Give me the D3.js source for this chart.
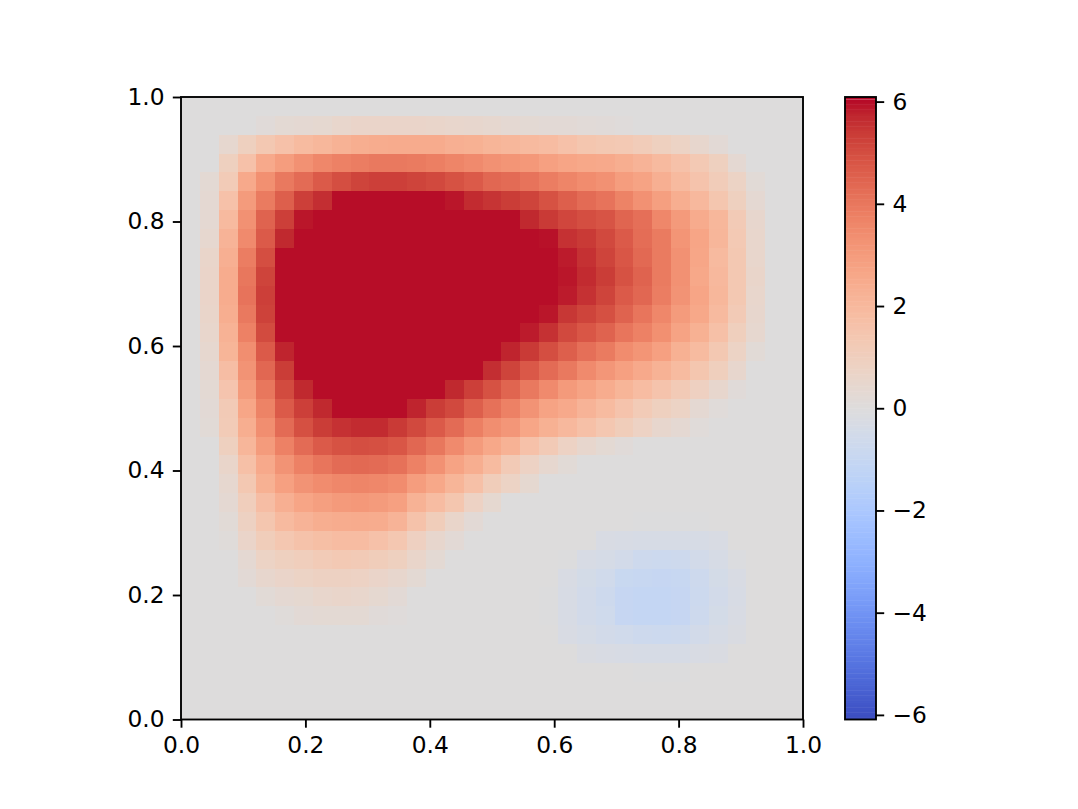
<!DOCTYPE html>
<html>
<head>
<meta charset="utf-8">
<script src="https://cdn.jsdelivr.net/npm/d3@7"></script>
<style>
  html, body { margin: 0; padding: 0; background: #fff; }
  svg { display: block; }
  text { font-family: "DejaVu Sans", sans-serif; }
</style>
</head>
<body>
<svg id="chart" width="1078" height="809"></svg>
<script>
// values, one list per row, top row first
const cellValues = [
  [0,0,0,0,0,0,0,0,0,0,0,0,0,0,0,0,0,0,0,0,0,0,0,0,0,0,0,0,0,0,0,0,0],
  [0,0,0,0,.15,.3,.35,.4,.55,.65,.65,.65,.65,.6,.55,.5,.45,.35,.3,.25,.25,.18,.15,.08,0,0,0,0,0,0,0,0,0],
  [0,0,.45,.95,1.35,1.65,1.9,2.05,2.25,2.4,2.45,2.5,2.5,2.5,2.35,2.3,2.15,2.05,1.95,1.85,1.65,1.45,1.35,1.3,1.15,.95,.75,.5,.25,0,0,0,0],
  [0,0,.95,1.65,2.55,2.95,3.3,3.6,3.75,3.85,3.95,3.95,3.9,3.8,3.65,3.5,3.3,3.2,3.1,2.85,2.7,2.6,2.55,2.4,2.2,1.95,1.65,1.3,.95,.35,0,0,0],
  [0,.3,1.2,2.55,3.35,3.95,4.3,4.7,5,5.2,5.3,5.3,5.2,5.1,4.9,4.7,4.4,4.3,4.1,3.85,3.65,3.45,3.3,2.95,2.75,2.35,1.95,1.55,1.15,.75,.2,0,0],
  [0,.35,1.65,3,3.9,4.6,5.3,5.6,6,6,6,6,6,6,5.9,5.65,5.5,5.35,5.2,4.9,4.6,4.3,4.1,3.7,3.3,2.9,2.4,2,1.45,.95,.35,0,0],
  [0,.35,1.95,3.3,4.5,5.3,5.9,6,6,6,6,6,6,6,6,6,6,6,5.7,5.4,5.15,5,4.85,4.45,4.2,3.6,3.05,2.5,2.05,1.25,.5,0,0],
  [0,.45,2.2,3.5,4.7,5.7,6,6,6,6,6,6,6,6,6,6,6,6,6,5.95,5.55,5.4,5.1,4.7,4.25,3.9,3.2,2.7,2.1,1.3,.55,0,0],
  [0,.6,2.35,3.85,5,6,6,6,6,6,6,6,6,6,6,6,6,6,6,6,5.85,5.55,5.2,4.8,4.35,3.9,3.3,2.65,1.95,1.35,.55,0,0],
  [0,.65,2.45,4,5.2,6,6,6,6,6,6,6,6,6,6,6,6,6,6,6,5.9,5.65,5.35,4.9,4.5,3.9,3.3,2.6,2,1.35,.6,0,0],
  [0,.65,2.45,4.1,5.3,6,6,6,6,6,6,6,6,6,6,6,6,6,6,6,5.85,5.55,5.2,4.7,4.4,3.85,3.25,2.7,2.05,1.35,.55,0,0],
  [0,.6,2.4,3.95,5.25,6,6,6,6,6,6,6,6,6,6,6,6,6,6,5.9,5.45,5.2,4.95,4.5,4.05,3.6,3,2.6,1.95,1.25,.5,0,0],
  [0,.55,2.25,3.75,5.05,6,6,6,6,6,6,6,6,6,6,6,6,6,5.85,5.55,5.1,4.8,4.5,4.05,3.75,3.35,2.75,2.3,1.7,1,.45,0,0],
  [0,.45,2.15,3.4,4.7,5.75,6,6,6,6,6,6,6,6,6,6,6,5.75,5.4,5,4.6,4.2,3.9,3.45,3.2,2.85,2.3,1.9,1.35,.75,.2,0,0],
  [0,.35,1.8,3.25,4.4,5.35,6,6,6,6,6,6,6,6,6,6,5.6,5.2,4.75,4.3,3.95,3.5,3.15,2.85,2.55,2.25,1.9,1.45,1,.5,0,0,0],
  [0,.3,1.5,3,4,5.05,5.7,6,6,6,6,6,6,6,5.7,5.3,4.9,4.45,3.95,3.5,3.05,2.75,2.45,2.15,1.85,1.55,1.25,.9,.5,.15,0,0,0],
  [0,.25,1.25,2.65,3.7,4.7,5.3,5.7,6,6,6,6,5.75,5.35,5.1,4.6,4.15,3.75,3.25,2.75,2.55,2.2,1.9,1.55,1.2,.95,.75,.35,.12,0,0,0,0],
  [0,.2,1.2,2.4,3.4,4.3,4.95,5.35,5.55,5.65,5.65,5.4,5.1,4.7,4.3,3.8,3.4,3.15,2.65,2.3,2,1.7,1.4,1.1,.8,.5,.35,.12,0,0,0,0,0],
  [0,0,.95,2.1,3,3.75,4.3,4.7,4.9,5,4.95,4.8,4.4,4,3.5,3,2.6,2.25,1.65,1.25,.8,.5,.3,.15,0,0,0,0,0,0,0,0,0],
  [0,0,.6,1.7,2.55,3.25,3.75,4.05,4.3,4.35,4.3,4.15,3.75,3.3,2.75,2.4,1.9,1.25,.8,.45,.2,0,0,0,0,0,0,0,0,0,0,0,0],
  [0,0,.45,1.35,2.3,2.85,3.25,3.45,3.6,3.65,3.6,3.45,2.95,2.6,2.15,1.7,1.1,.75,.4,0,0,0,0,0,0,0,0,0,0,0,0,0,0],
  [0,0,.35,1.05,1.8,2.35,2.7,2.9,3.05,3.1,3,2.85,2.25,1.85,1.45,.8,.4,0,0,0,0,0,0,0,0,0,0,0,0,0,0,0,0],
  [0,0,.2,.85,1.45,1.95,2.2,2.4,2.45,2.5,2.45,2.2,1.6,1.1,.6,.25,0,0,0,0,0,0,0,0,-.04,-.04,-.04,-.04,0,0,0,0,0],
  [0,0,.1,.65,1.1,1.4,1.6,1.75,1.85,1.85,1.65,1.4,.9,.5,.25,0,0,0,0,0,0,0,-.25,-.3,-.35,-.35,-.35,-.35,-.25,0,0,0,0],
  [0,0,0,.35,.75,.95,1.05,1.2,1.3,1.25,1.1,.95,.6,.3,0,0,0,0,0,0,-.04,-.3,-.4,-.5,-.7,-.75,-.7,-.5,-.35,-.1,0,0,0],
  [0,0,0,.25,.5,.65,.75,.85,.85,.8,.65,.5,.3,0,0,0,0,0,0,0,-.25,-.45,-.6,-.9,-.95,-1,-.95,-.7,-.45,-.25,0,0,0],
  [0,0,0,0,.2,.35,.4,.55,.6,.55,.4,.25,0,0,0,0,0,0,0,-.04,-.3,-.5,-.7,-1,-1.05,-1.05,-1,-.75,-.5,-.3,0,0,0],
  [0,0,0,0,0,.1,.25,.3,.3,.3,.15,.08,0,0,0,0,0,0,0,-.04,-.3,-.5,-.65,-1,-1.05,-1.05,-1,-.7,-.45,-.25,0,0,0],
  [0,0,0,0,0,0,0,0,0,0,0,0,0,0,0,0,0,0,0,0,-.25,-.4,-.5,-.6,-.7,-.75,-.7,-.5,-.35,-.2,0,0,0],
  [0,0,0,0,0,0,0,0,0,0,0,0,0,0,0,0,0,0,0,0,0,-.2,-.25,-.3,-.35,-.35,-.35,-.25,-.2,0,0,0,0],
  [0,0,0,0,0,0,0,0,0,0,0,0,0,0,0,0,0,0,0,0,0,0,0,0,-.04,-.04,-.04,0,0,0,0,0,0],
  [0,0,0,0,0,0,0,0,0,0,0,0,0,0,0,0,0,0,0,0,0,0,0,0,0,0,0,0,0,0,0,0,0],
  [0,0,0,0,0,0,0,0,0,0,0,0,0,0,0,0,0,0,0,0,0,0,0,0,0,0,0,0,0,0,0,0,0]
]
const axisTicks = [0, 0.2, 0.4, 0.6, 0.8, 1]
const colorbarTicks = [-6, -4, -2, 0, 2, 4, 6]
const vMax = 6.09

// coolwarm, evenly spaced
const coolwarm = ['#3b4cc0','#445acc','#4d68d7','#5775e1','#6282ea','#6c8ef1','#779af7','#82a5fb','#8db0fe','#98b9ff','#a3c2ff','#aec9fd','#b8d0f9','#c2d5f4','#ccd9ee','#d5dbe6','#dddcdc','#e5d8d1','#ecd3c5','#f1ccb9','#f5c4ad','#f7bba0','#f7b194','#f7a687','#f49a7b','#f18d6f','#ec7f63','#e57058','#de604d','#d55042','#cb3e38','#c0282f','#b40426']

const plot = { left: 181, right: 803, top: 97, bottom: 719.5 }
const bar = { left: 845, right: 876 }
const lineW = 1.87, tickLen = 8.2, fontSize = 23.3

const svg = d3.select('#chart')

const color = d3.scaleLinear()
    .domain(d3.range(coolwarm.length).map(i => -vMax + 2 * vMax * i / (coolwarm.length - 1)))
    .range(coolwarm)
    .clamp(true)

const x = d3.scaleLinear().domain([0, 1]).range([plot.left, plot.right])
const y = d3.scaleLinear().domain([0, 1]).range([plot.bottom, plot.top])
const colX = d3.scaleBand().domain(d3.range(cellValues[0].length)).range([plot.left, plot.right])
const rowY = d3.scaleBand().domain(d3.range(cellValues.length)).range([plot.top, plot.bottom])

svg.append('g')
    .selectAll('g')
    .data(cellValues)
    .join('g')
    .attr('transform', (d, i) => `translate(0,${rowY(i)})`)
    .selectAll('rect')
    .data(d => d)
    .join('rect')
    .attr('x', (d, i) => colX(i))
    .attr('width', colX.bandwidth() + 0.5)
    .attr('height', rowY.bandwidth() + 0.5)
    .attr('shape-rendering', 'crispEdges')
    .attr('fill', d => color(d))

function styleAxis(g) {
    g.selectAll('.domain').remove()
    g.selectAll('line').attr('stroke', '#000').attr('stroke-width', lineW)
    g.selectAll('text').attr('fill', '#000').attr('font-size', fontSize)
        .attr('font-family', '"DejaVu Sans", sans-serif')
}

svg.append('g')
    .attr('transform', `translate(0,${plot.bottom})`)
    .call(d3.axisBottom(x).tickValues(axisTicks).tickFormat(d3.format('.1f')).tickSize(tickLen).tickPadding(tickLen + 0.6))
    .call(styleAxis)

svg.append('g')
    .attr('transform', `translate(${plot.left},0)`)
    .call(d3.axisLeft(y).tickValues(axisTicks).tickFormat(d3.format('.1f')).tickSize(tickLen).tickPadding(tickLen))
    .call(styleAxis)

svg.append('rect')
    .attr('x', plot.left)
    .attr('y', plot.top)
    .attr('width', plot.right - plot.left)
    .attr('height', plot.bottom - plot.top)
    .attr('fill', 'none')
    .attr('stroke', '#000')
    .attr('stroke-width', lineW)

// colorbar, 256 levels like the colormap
const barY = d3.scaleLinear().domain([-vMax, vMax]).range([plot.bottom, plot.top])
const levelH = (plot.bottom - plot.top) / 256
const levels = d3.range(256).map(i => -vMax + 2 * vMax * (i + 0.5) / 256)

svg.append('g')
    .selectAll('rect')
    .data(levels)
    .join('rect')
    .attr('x', bar.left)
    .attr('y', d => barY(d) - levelH / 2)
    .attr('width', bar.right - bar.left)
    .attr('height', (d, i) => i == 255 ? levelH : levelH + 0.5)
    .attr('fill', d => color(d))

svg.append('rect')
    .attr('x', bar.left)
    .attr('y', plot.top)
    .attr('width', bar.right - bar.left)
    .attr('height', plot.bottom - plot.top)
    .attr('fill', 'none')
    .attr('stroke', '#000')
    .attr('stroke-width', lineW)

svg.append('g')
    .attr('transform', `translate(${bar.right},0)`)
    .call(d3.axisRight(barY).tickValues(colorbarTicks).tickFormat(d3.format('d')).tickSize(tickLen).tickPadding(tickLen))
    .call(styleAxis)
</script>
</body>
</html>
